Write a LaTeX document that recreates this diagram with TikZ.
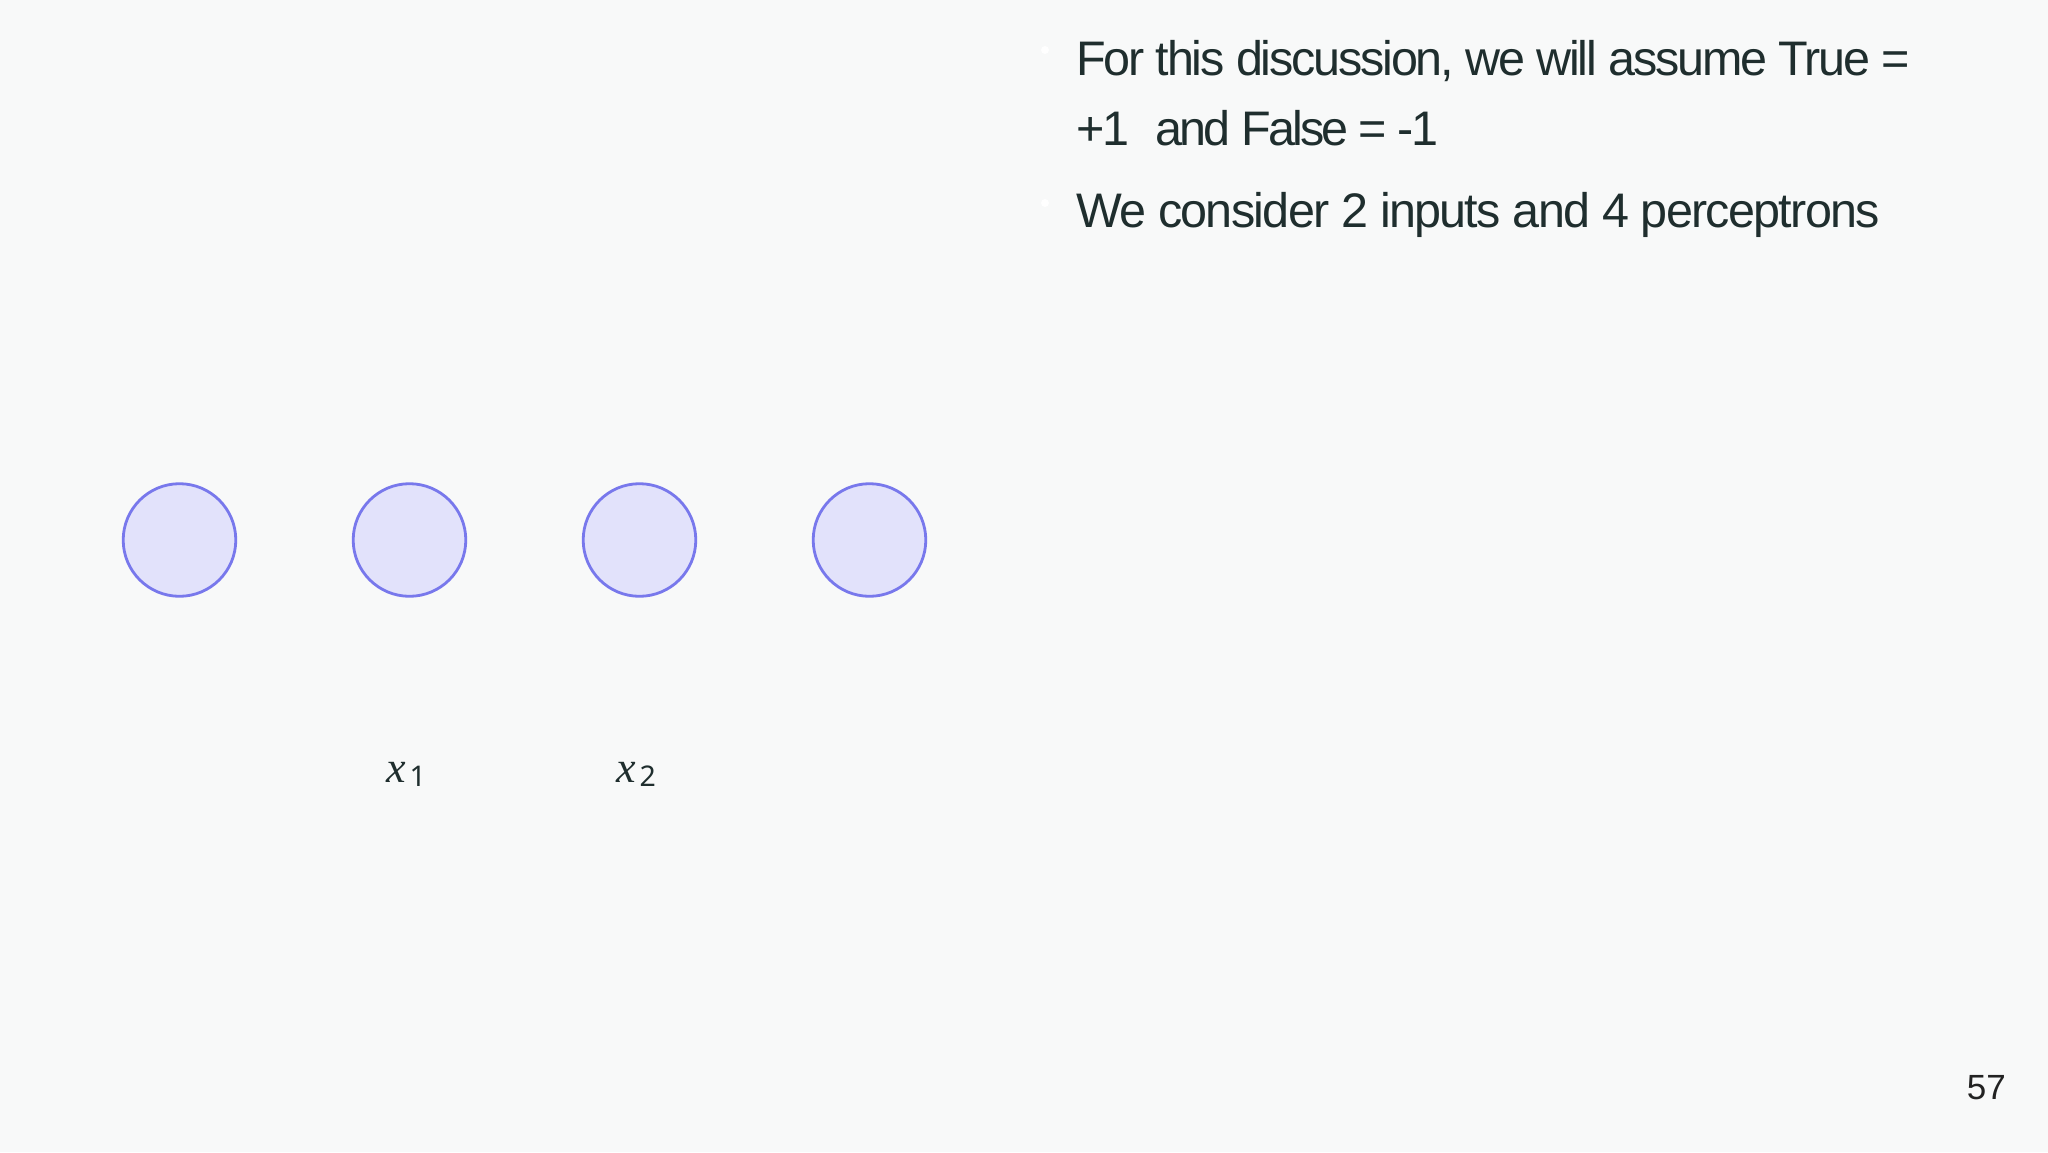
\documentclass[tikz,border=0pt]{standalone}
\usepackage{fontspec}
\setmainfont{Liberation Sans}
\newfontfamily\bodyfont[LetterSpace=-3.5]{Liberation Sans}
\newfontfamily\bodyfontA[LetterSpace=-4.5]{Liberation Sans}
\newfontfamily\bodyfontB[LetterSpace=-6]{Liberation Sans}
\newfontfamily\mathitfont{Liberation Serif}
\newfontfamily\subfont{Noto Sans}
\definecolor{bgcol}{HTML}{F8F9F9}
\definecolor{txtcol}{HTML}{1F2E2E}
\definecolor{ringcol}{HTML}{7878EC}
\definecolor{fillcol}{HTML}{E2E2FB}
\definecolor{numcol}{HTML}{222222}
\tikzset{
  unit/.style={circle, draw=ringcol, fill=fillcol, line width=2.8bp, minimum size=112.6bp, inner sep=0pt},
  bullettext/.style={anchor=base west, inner sep=0pt, text=txtcol, font=\bodyfont\fontsize{48.5bp}{58bp}\selectfont},
  bulletdot/.style={circle, fill=white, inner sep=0pt, minimum size=8bp},
  varlabel/.style={anchor=base west, inner sep=0pt, text=txtcol},
}
\begin{document}
\begin{tikzpicture}[x=1bp,y=-1bp]
\path[fill=bgcol] (0,0) rectangle (2048,1152);
\useasboundingbox (0,0) rectangle (2048,1152);
% bullets
\node[bulletdot] (b1) at (1045,50) {};
\node[bulletdot] (b2) at (1045,203) {};
\node[bullettext] (t1) at (1076,75) {\bodyfontA For this discussion, we will assume True =};
\node[bullettext] (t2) at (1076,145) {+1\hspace{26bp}\bodyfontB and False = -1};
\node[bullettext] (t3) at (1076,227) {We consider 2 inputs and 4 perceptrons};
% units
\node[unit] (n1) at (179.5,540) {};
\node[unit] (n2) at (409.5,540) {};
\node[unit] (n3) at (639.5,540) {};
\node[unit] (n4) at (869.5,540) {};
% labels
\node[varlabel] (l1) at (386,782) {{\mathitfont\itshape\fontsize{44bp}{50bp}\selectfont x}\hspace{4bp}\raisebox{-4bp}{\subfont\fontsize{28.5bp}{30bp}\selectfont 1}};
\node[varlabel] (l2) at (616,782) {{\mathitfont\itshape\fontsize{44bp}{50bp}\selectfont x}\hspace{4bp}\raisebox{-4bp}{\subfont\fontsize{28.5bp}{30bp}\selectfont 2}};
% page number
\node[anchor=base east, inner sep=0pt, text=numcol, font=\fontsize{35bp}{40bp}\selectfont] (pg) at (2006,1099) {57};
\end{tikzpicture}
\end{document}
